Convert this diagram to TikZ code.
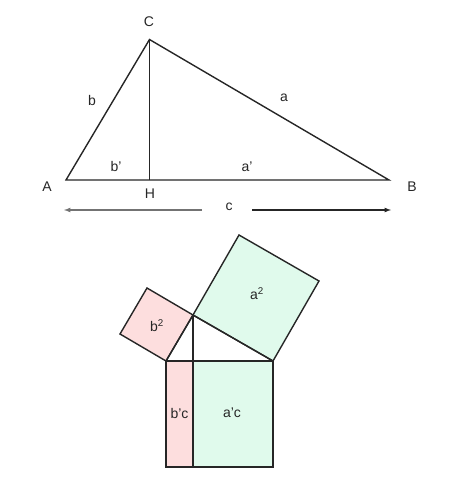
\documentclass[tikz,border=0pt]{standalone}
\usepackage{fontspec}
\setmainfont{Liberation Sans}
\begin{document}
\begin{tikzpicture}[x=1pt,y=-1pt,
  edge/.style={line width=1.4pt,black!85,line join=miter},
  lbl/.style={font=\fontsize{14}{16}\selectfont,text=black!85,inner sep=0pt},
  pinkfill/.style={fill={rgb,255:red,253;green,222;blue,222}},
  greenfill/.style={fill={rgb,255:red,224;green,250;blue,236}},
  dimline/.style={line width=1.2pt,-latex}]
\useasboundingbox (0,0) rectangle (451,480);
% top triangle
\coordinate (A) at (66,180);
\coordinate (B) at (389,180);
\coordinate (C) at (149.5,39.5);
\coordinate (H) at (149.5,180);
\draw[edge] (A) -- (C) -- (B) -- cycle;
\draw[edge] (C) -- (H);
\node[lbl] (lC) at (149,22) {C};
\node[lbl] (lA) at (47,187) {A};
\node[lbl] (lB) at (412,187) {B};
\node[lbl] (lH) at (150,194) {H};
\node[lbl] (lb) at (92,100) {b};
\node[lbl] (la) at (284,98) {a};
\node[lbl] (lbp) at (116,166) {b'};
\node[lbl] (lap) at (247,167) {a'};
\node[lbl] (lc) at (229,207) {c};
\coordinate (cl1) at (202,210);
\coordinate (cl2) at (64,210);
\coordinate (cr1) at (252,210);
\coordinate (cr2) at (391,210);
\draw[dimline,black!55] (cl1) -- (cl2);
\draw[dimline,black!85] (cr1) -- (cr2);
% bottom figure
\coordinate (P) at (166,361);
\coordinate (Q) at (273,361);
\coordinate (R) at (193,315);
\coordinate (S) at (193,361);
\coordinate (P2) at (166,467);
\coordinate (Q2) at (273,467);
\coordinate (S2) at (193,467);
\coordinate (b1) at (120,334);
\coordinate (b2) at (147,288);
\coordinate (a1) at (239,235);
\coordinate (a2) at (319,281);
\draw[edge,pinkfill] (P) -- (b1) -- (b2) -- (R) -- cycle;
\draw[edge,greenfill] (R) -- (a1) -- (a2) -- (Q) -- cycle;
\draw[edge,pinkfill] (P) -- (S) -- (S2) -- (P2) -- cycle;
\draw[edge,greenfill] (S) -- (Q) -- (Q2) -- (S2) -- cycle;
\draw[edge] (P) -- (R) -- (Q);
\draw[edge] (R) -- (S);
\node[lbl] (lb2) at (157,326) {b\textsuperscript{2}};
\node[lbl] (la2) at (257,294) {a\textsuperscript{2}};
\node[lbl] (lbc) at (179.5,413) {b'c};
\node[lbl] (lac) at (232,413) {a'c};
\end{tikzpicture}
\end{document}
